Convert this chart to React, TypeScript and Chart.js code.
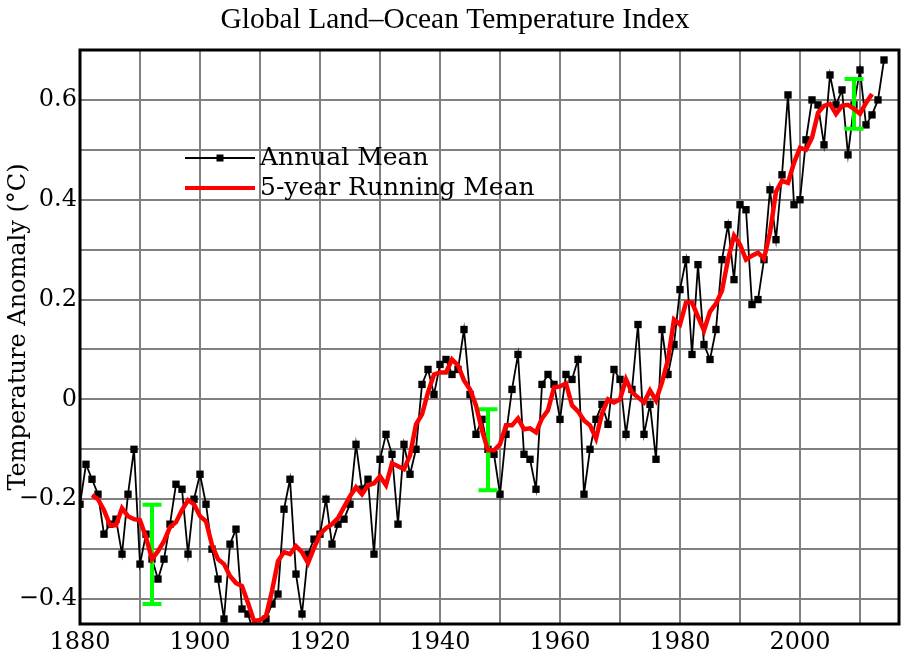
import React, { useEffect, useRef } from "react";
import { Chart, registerables } from "chart.js";

Chart.register(...registerables);

// ---- Data ----
const chartTitle = "Global Land–Ocean Temperature Index";
const yAxisTitle = "Temperature Anomaly (°C)";
const legendLabels = ["Annual Mean", "5-year Running Mean"];

const annualStartYear = 1880;
const annualMean = [
  -0.21, -0.13, -0.16, -0.19, -0.27, -0.25, -0.24, -0.31, -0.19, -0.10,
  -0.33, -0.27, -0.32, -0.36, -0.32, -0.25, -0.17, -0.18, -0.31, -0.20,
  -0.15, -0.21, -0.30, -0.36, -0.44, -0.29, -0.26, -0.42, -0.43, -0.47,
  -0.46, -0.44, -0.41, -0.39, -0.22, -0.16, -0.35, -0.43, -0.31, -0.28,
  -0.27, -0.20, -0.29, -0.25, -0.24, -0.21, -0.09, -0.18, -0.16, -0.31,
  -0.12, -0.07, -0.11, -0.25, -0.09, -0.15, -0.10, 0.03, 0.06, 0.01,
  0.07, 0.08, 0.05, 0.06, 0.14, 0.01, -0.07, -0.04, -0.10, -0.11,
  -0.19, -0.07, 0.02, 0.09, -0.11, -0.12, -0.18, 0.03, 0.05, 0.03,
  -0.04, 0.05, 0.04, 0.08, -0.19, -0.10, -0.04, -0.01, -0.05, 0.06,
  0.04, -0.07, 0.02, 0.15, -0.07, -0.01, -0.12, 0.14, 0.05, 0.11,
  0.22, 0.28, 0.09, 0.27, 0.11, 0.08, 0.14, 0.28, 0.35, 0.24,
  0.39, 0.38, 0.19, 0.20, 0.28, 0.42, 0.32, 0.45, 0.61, 0.39,
  0.40, 0.52, 0.60, 0.59, 0.51, 0.65, 0.59, 0.62, 0.49, 0.59,
  0.66, 0.55, 0.57, 0.60, 0.68,
];

const runningStartYear = 1882;
const runningMean = [
  -0.192, -0.200, -0.222, -0.252, -0.252, -0.218, -0.234, -0.240,
  -0.242, -0.276, -0.320, -0.304, -0.284, -0.256, -0.246, -0.222, -0.202, -0.210,
  -0.234, -0.244, -0.292, -0.320, -0.330, -0.354, -0.368, -0.374, -0.408, -0.444,
  -0.442, -0.434, -0.384, -0.324, -0.306, -0.310, -0.294, -0.306, -0.328, -0.298,
  -0.270, -0.258, -0.250, -0.238, -0.216, -0.194, -0.176, -0.190, -0.172, -0.168,
  -0.154, -0.172, -0.128, -0.134, -0.140, -0.112, -0.050, -0.030, 0.014, 0.050,
  0.054, 0.054, 0.080, 0.068, 0.038, 0.020, -0.012, -0.062, -0.102, -0.102,
  -0.090, -0.052, -0.052, -0.038, -0.060, -0.058, -0.066, -0.038, -0.022, 0.024,
  0.026, 0.032, -0.012, -0.024, -0.042, -0.052, -0.078, -0.028, 0.000, -0.006,
  0.000, 0.040, 0.014, 0.004, -0.006, 0.018, -0.002, 0.034, 0.080, 0.160,
  0.150, 0.194, 0.194, 0.166, 0.138, 0.176, 0.192, 0.218, 0.280, 0.328,
  0.310, 0.280, 0.288, 0.294, 0.282, 0.334, 0.416, 0.438, 0.434, 0.474,
  0.504, 0.500, 0.524, 0.574, 0.588, 0.592, 0.572, 0.588, 0.590, 0.582,
  0.572, 0.594, 0.612,
];

const errorYears = [1892, 1948, 2009];
const errorLow = [-0.41, -0.182, 0.542];
const errorHigh = [-0.211, -0.02, 0.642];

const xMin = 1880;
const xMax = 2016.5;
const yMin = -0.45;
const yMax = 0.7;

const SERIF = '"DejaVu Serif", serif';

const decorPlugin = {
  id: "decor",
  afterDatasetDraw(chart: any, args: any) {
    if (args.index !== 1) return;
    const { ctx, chartArea, scales } = chart;
    const x = scales.x;
    const y = scales.y;
    ctx.save();
    ctx.beginPath();
    ctx.rect(chartArea.left, chartArea.top, chartArea.right - chartArea.left, chartArea.bottom - chartArea.top);
    ctx.clip();
    ctx.strokeStyle = "#00ff00";
    ctx.lineWidth = 4;
    ctx.lineCap = "butt";
    errorYears.forEach((yr, i) => {
      const px = x.getPixelForValue(yr);
      const top = y.getPixelForValue(errorHigh[i]);
      const bot = y.getPixelForValue(errorLow[i]);
      ctx.beginPath();
      ctx.moveTo(px, top);
      ctx.lineTo(px, bot);
      ctx.moveTo(px - 9.5, top);
      ctx.lineTo(px + 9.5, top);
      ctx.moveTo(px - 9.5, bot);
      ctx.lineTo(px + 9.5, bot);
      ctx.stroke();
    });
    ctx.restore();
  },
  afterDraw(chart: any) {
    const { ctx, chartArea } = chart;
    ctx.save();
    // frame
    ctx.strokeStyle = "#000";
    ctx.lineWidth = 3;
    ctx.strokeRect(chartArea.left, chartArea.top, chartArea.right - chartArea.left, chartArea.bottom - chartArea.top);

    // title
    ctx.fillStyle = "#000";
    ctx.font = '29.5px "Liberation Serif", serif';
    ctx.textAlign = "center";
    ctx.textBaseline = "middle";
    ctx.fillText(chartTitle, chart.width / 2, 20);

    // y axis title
    ctx.save();
    ctx.translate(19, 327);
    ctx.rotate(-Math.PI / 2);
    ctx.font = "24px " + SERIF;
    ctx.textAlign = "center";
    ctx.textBaseline = "middle";
    ctx.fillText(yAxisTitle, 0, 0);
    ctx.restore();

    // legend
    const lx0 = 185;
    const lx1 = 255;
    const ly0 = 158;
    const ly1 = 188;
    ctx.strokeStyle = "#000";
    ctx.lineWidth = 1.8;
    ctx.beginPath();
    ctx.moveTo(lx0, ly0);
    ctx.lineTo(lx1, ly0);
    ctx.stroke();
    ctx.fillStyle = "#000";
    ctx.fillRect((lx0 + lx1) / 2 - 3.5, ly0 - 3.5, 7, 7);
    ctx.strokeStyle = "#ff0000";
    ctx.lineWidth = 4;
    ctx.beginPath();
    ctx.moveTo(lx0, ly1);
    ctx.lineTo(lx1, ly1);
    ctx.stroke();
    ctx.fillStyle = "#000";
    ctx.font = "25px " + SERIF;
    ctx.textAlign = "left";
    ctx.textBaseline = "middle";
    ctx.fillText(legendLabels[0], 260, ly0);
    ctx.fillText(legendLabels[1], 260, ly1);
    ctx.restore();
  },
};

function fmtY(v: number): string {
  const r = Math.round(v * 10);
  if (Math.abs(v * 10 - r) > 1e-6) return "";
  if (r % 2 !== 0) return "";
  if (r === 0) return "0";
  const s = (Math.abs(r) / 10).toFixed(1);
  return r < 0 ? "\u2212" + s : s;
}

export default function App() {
  const canvasRef = useRef<HTMLCanvasElement | null>(null);

  useEffect(() => {
    const canvas = canvasRef.current;
    if (!canvas) return;
    const annualPoints = annualMean.map((v, i) => ({ x: annualStartYear + i, y: v }));
    const runningPoints = runningMean.map((v, i) => ({ x: runningStartYear + i, y: v }));

    const chart = new Chart(canvas, {
      type: "line",
      data: {
        datasets: [
          {
            label: legendLabels[1],
            data: runningPoints,
            borderColor: "#ff0000",
            borderWidth: 4.5,
            pointRadius: 0,
            tension: 0,
            fill: false,
          },
          {
            label: legendLabels[0],
            data: annualPoints,
            borderColor: "#000000",
            borderWidth: 1.8,
            pointStyle: "rect",
            pointRadius: 5.2,
            pointBackgroundColor: "#000000",
            pointBorderColor: "#000000",
            pointBorderWidth: 0,
            tension: 0,
            fill: false,
          },
        ],
      },
      options: {
        responsive: false,
        animation: false,
        events: [],
        layout: { padding: { top: 50, right: 11, bottom: 0, left: 0 } },
        plugins: {
          legend: { display: false },
          title: { display: false },
          tooltip: { enabled: false },
        },
        scales: {
          x: {
            type: "linear",
            min: xMin,
            max: xMax,
            afterFit: (scale: any) => {
              scale.height = 31;
            },
            border: { display: false },
            grid: { color: "#808080", lineWidth: 2, drawTicks: false },
            ticks: {
              stepSize: 10,
              includeBounds: false,
              autoSkip: false,
              maxRotation: 0,
              padding: 4,
              color: "#000",
              font: { family: SERIF, size: 24 },
              callback: (v: any) => {
                const n = Number(v);
                return Math.abs(n % 20) < 1e-6 ? String(n) : "";
              },
            },
          },
          y: {
            type: "linear",
            min: yMin,
            max: yMax,
            afterFit: (scale: any) => {
              scale.width = 80;
            },
            border: { display: false },
            grid: { color: "#808080", lineWidth: 2, drawTicks: false },
            ticks: {
              stepSize: 0.1,
              includeBounds: false,
              autoSkip: false,
              padding: 3,
              color: "#000",
              font: { family: SERIF, size: 24 },
              callback: (v: any) => fmtY(Number(v)),
            },
          },
        },
      },
      plugins: [decorPlugin],
    } as any);

    return () => {
      chart.destroy();
    };
  }, []);

  return (
    <div style={{ position: "fixed", left: 0, top: 0, width: 910, height: 655, background: "#fff" }}>
      <canvas ref={canvasRef} width={910} height={655} />
    </div>
  );
}
